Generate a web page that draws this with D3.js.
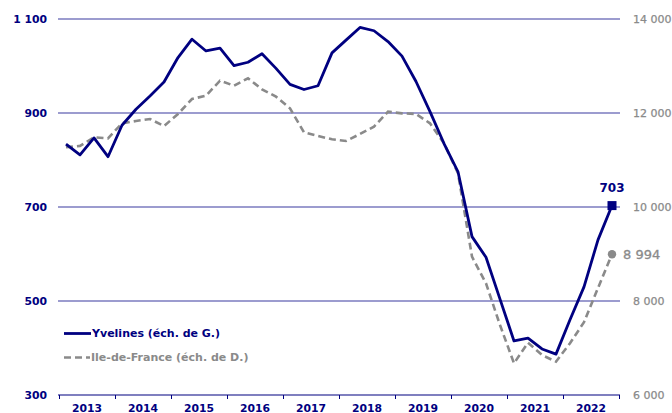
<!DOCTYPE html>
<html><head><meta charset="utf-8">
<script src="https://cdn.jsdelivr.net/npm/d3@7"></script>
<style>body{margin:0;background:#fff}svg{display:block}text{font-family:"DejaVu Sans",Verdana,sans-serif}</style>
</head><body><svg id="c" width="672" height="413"></svg>
<script>
const years = [2013,2014,2015,2016,2017,2018,2019,2020,2021,2022];
const quarters = [1,2,3,4];
const yvelines = [834,811,847,807, 874,908,936,966, 1018,1057,1032,1038, 1001,1008,1026,995, 961,950,958,1028, 1055,1082,1075,1052, 1021,967,903,835, 775,637,593,504, 415,421,398,387, 460,530,630,703];
const idf = [11270,11300,11483,11460, 11781,11830,11872,11723, 11979,12298,12369,12688, 12582,12738,12504,12348, 12099,11589,11511,11440, 11404,11553,11709,12028, 11993,11979,11781,11355, 10717,8943,8376,7489, 6674,7113,6851,6709, 7100,7550,8277,8994];
const leftTicks = [300,500,700,900,1100];
const rightTicks = [6000,8000,10000,12000,14000];
const seriesNames = ["Yvelines (éch. de G.)","Ile-de-France (éch. de D.)"];

const navy="#000080", gray="#8a8a8a", grid="#7b7bbf";
const svg=d3.select("#c");
const x=d3.scaleLinear().domain([2013,2023]).range([59,619]);
const yL=d3.scaleLinear().domain([300,1100]).range([395,19]);
const yR=d3.scaleLinear().domain([6000,14000]).range([395,19]);
const t = [];
years.forEach(y=>quarters.forEach(q=>t.push(y+(q-0.5)/4)));

// gridlines
svg.append("g").selectAll("line").data(leftTicks.filter(v=>v>300)).join("line")
 .attr("x1",58).attr("x2",620).attr("y1",d=>yL(d)).attr("y2",d=>yL(d))
 .attr("stroke",grid).attr("stroke-width",1.5);

// x axis
const xa=d3.axisBottom(x).tickValues(d3.range(2013,2024)).tickSize(4).tickFormat("");
const gx=svg.append("g").attr("transform","translate(0,395)").call(xa);
gx.select(".domain").attr("stroke",navy).attr("stroke-width",1.2).attr("d","M58,0H620");
gx.selectAll(".tick line").attr("stroke",navy);
svg.append("g").selectAll("text").data(years).join("text")
 .attr("x",d=>x(d+0.5)).attr("y",411.5).attr("text-anchor","middle")
 .attr("font-size",10.8).attr("font-weight","bold").attr("fill",navy).text(d=>d);

const fmt=v=>d3.format(",")(v).replace(/,/g," ");
// left ticks
svg.append("g").selectAll("text").data(leftTicks).join("text")
 .attr("x",47).attr("y",d=>yL(d)).attr("dy","0.36em").attr("text-anchor","end")
 .attr("font-size",10.8).attr("font-weight","bold").attr("fill",navy).text(fmt);
// right ticks
svg.append("g").selectAll("text").data(rightTicks).join("text")
 .attr("x",633).attr("y",d=>yR(d)).attr("dy","0.36em").attr("text-anchor","start")
 .attr("font-size",11).attr("fill",gray).attr("stroke",gray).attr("stroke-width",0.25).text(fmt);

// lines
const lineL=d3.line().x((d,i)=>x(t[i])).y(d=>yL(d));
const lineR=d3.line().x((d,i)=>x(t[i])).y(d=>yR(d));
svg.append("path").attr("d",lineR(idf)).attr("fill","none").attr("stroke",gray)
 .attr("stroke-width",2.6).attr("stroke-dasharray","7,4");
svg.append("path").attr("d",lineL(yvelines)).attr("fill","none").attr("stroke",navy)
 .attr("stroke-width",2.8).attr("stroke-linejoin","round");

// end markers
const n=t.length-1;
svg.append("rect").attr("x",x(t[n])-4.5).attr("y",yL(yvelines[n])-4.5).attr("width",9).attr("height",9).attr("fill",navy);
svg.append("text").attr("x",x(t[n])).attr("y",yL(yvelines[n])-14).attr("text-anchor","middle")
 .attr("font-size",12).attr("font-weight","bold").attr("fill",navy).text(yvelines[n]);
svg.append("circle").attr("cx",x(t[n])).attr("cy",yR(idf[n])).attr("r",4.2).attr("fill",gray);
svg.append("text").attr("x",x(t[n])+11).attr("y",yR(idf[n])+5).attr("text-anchor","start")
 .attr("font-size",13).attr("fill",gray).attr("stroke",gray).attr("stroke-width",0.3).text(fmt(idf[n]));

// legend
svg.append("line").attr("x1",64).attr("x2",91).attr("y1",333.5).attr("y2",333.5).attr("stroke",navy).attr("stroke-width",2.8);
svg.append("text").attr("x",92).attr("y",333.5).attr("dy","0.36em").attr("font-size",11).attr("font-weight","bold").attr("fill",navy).text(seriesNames[0]);
svg.append("line").attr("x1",64).attr("x2",90).attr("y1",357.5).attr("y2",357.5).attr("stroke",gray).attr("stroke-width",2.6).attr("stroke-dasharray","7,4");
svg.append("text").attr("x",91).attr("y",357.5).attr("dy","0.36em").attr("font-size",11).attr("font-weight","bold").attr("fill",gray).text(seriesNames[1]);
</script></body></html>
